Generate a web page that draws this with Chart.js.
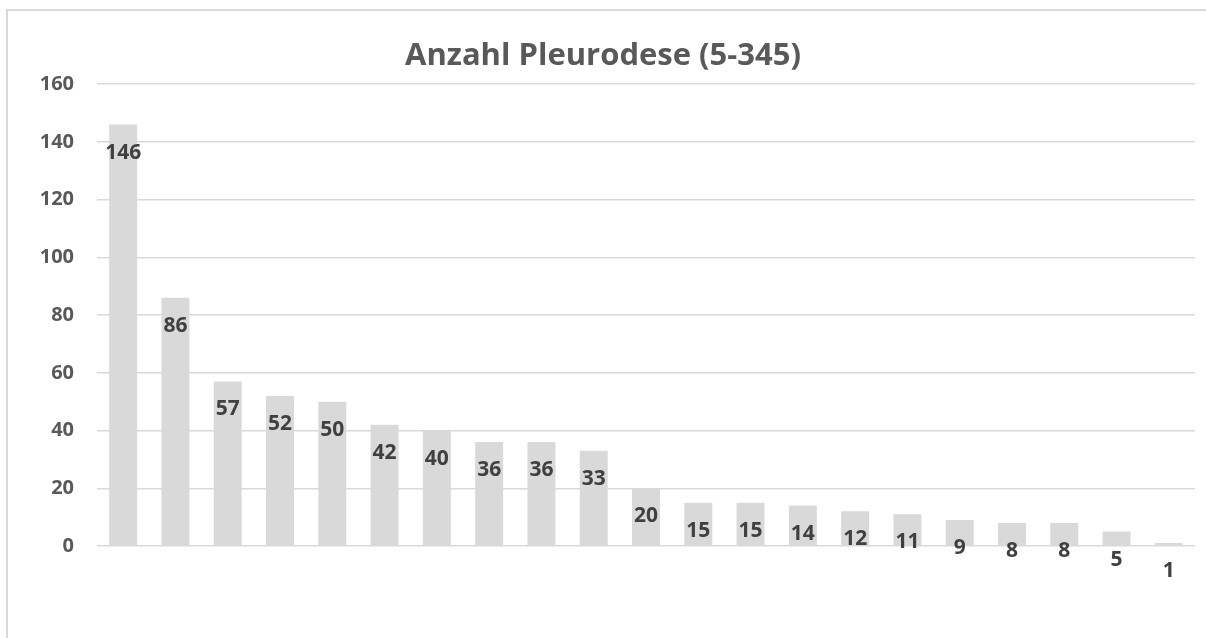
<!DOCTYPE html>
<html>
<head>
<meta charset="utf-8">
<script src="https://cdn.jsdelivr.net/npm/chart.js@4"></script>
<style>
  html, body { margin: 0; padding: 0; background: #fff; }
  #wrap { width: 1206px; height: 638px; }
</style>
</head>
<body>
<div id="wrap"><canvas id="pleuroChart" width="1206" height="638"></canvas></div>
<script>
// values, sorted descending
const categories = ['1', '2', '3', '4', '5', '6', '7', '8', '9', '10', '11',
    '12', '13', '14', '15', '16', '17', '18', '19', '20', '21'];
const counts = [146, 86, 57, 52, 50, 42, 40, 36, 36, 33, 20, 15, 15, 14, 12, 11, 9, 8, 8, 5, 1];
const chartTitle = 'Anzahl Pleurodese (5-345)';

const fontFamily = '"Open Sans", "Liberation Sans", sans-serif';

// light frame around the chart like the spreadsheet export
const framePlugin = {
    id: 'frame',
    beforeDraw(chart) {
        const ctx = chart.ctx;
        ctx.save();
        ctx.strokeStyle = '#d9d9d9';
        ctx.lineWidth = 2;
        ctx.beginPath();
        ctx.moveTo(7, chart.height);
        ctx.lineTo(7, 10);
        ctx.lineTo(chart.width, 10);
        ctx.stroke();
        ctx.restore();
    }
};

// value labels drawn a bit below the top of each bar
const barLabelPlugin = {
    id: 'barLabels',
    afterDatasetsDraw(chart) {
        const ctx = chart.ctx;
        const meta = chart.getDatasetMeta(0);
        ctx.save();
        ctx.font = 'bold 21px ' + fontFamily;
        ctx.fillStyle = '#404040';
        ctx.textAlign = 'center';
        ctx.textBaseline = 'middle';
        meta.data.forEach((bar, i) => {
            ctx.fillText(String(counts[i]), bar.x, bar.y + 28);
        });
        ctx.restore();
    }
};

document.addEventListener('DOMContentLoaded', function () {
    const ctx = document.getElementById('pleuroChart').getContext('2d');

    new Chart(ctx, {
        type: 'bar',
        data: {
            labels: categories,
            datasets: [{
                data: counts,
                backgroundColor: '#d9d9d9',
                borderWidth: 0,
                categoryPercentage: 1,
                barPercentage: 0.535
            }]
        },
        options: {
            responsive: false,
            animation: false,
            layout: {
                padding: { left: 11, right: 11, top: 0, bottom: 92 }
            },
            plugins: {
                legend: { display: false },
                tooltip: { enabled: false },
                title: {
                    display: true,
                    text: chartTitle,
                    color: '#595959',
                    font: { family: fontFamily, size: 31, weight: 'bold' },
                    padding: { top: 38, bottom: 9 }
                }
            },
            scales: {
                x: {
                    display: false
                },
                y: {
                    min: 0,
                    max: 160,
                    ticks: {
                        stepSize: 20,
                        padding: 23,
                        color: '#595959',
                        font: { family: fontFamily, size: 20, weight: 'bold' }
                    },
                    grid: {
                        color: '#d9d9d9',
                        lineWidth: 1.5,
                        drawTicks: false
                    },
                    border: { display: false },
                    afterFit(scale) {
                        scale.width = 86;
                    }
                }
            }
        },
        plugins: [framePlugin, barLabelPlugin]
    });
});
</script>
</body>
</html>
